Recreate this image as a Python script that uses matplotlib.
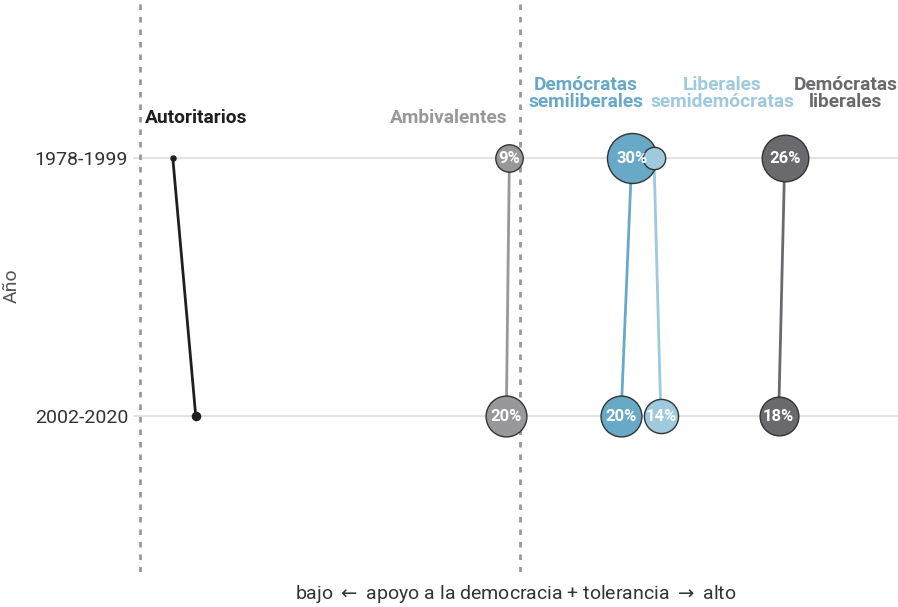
import matplotlib
matplotlib.use("Agg")
import matplotlib.pyplot as plt

plt.rcParams['font.family'] = ['Roboto', 'DejaVu Sans']

periods = ["1978-1999", "2002-2020"]
groups = ["Autoritarios", "Ambivalentes", "Demócratas\nsemiliberales",
          "Liberales\nsemidemócratas", "Demócratas\nliberales"]
# position on the support-for-democracy + tolerance index (0-100)
pos_1978 = [5.2, 49.2, 65.2, 68.1, 85.2]
pos_2002 = [8.2, 48.8, 63.8, 69.0, 84.4]
# share of respondents (%)
share_1978 = [0.3, 9, 30, 6, 26]
share_2002 = [0.8, 20, 20, 14, 18]
show_label_1978 = [False, True, True, False, True]
show_label_2002 = [False, True, True, True, True]
colors = ["#1f1f1f", "#98989b", "#67a9c6", "#9fc9dc", "#6a6a6e"]
dashed_x = [0.9, 50.6]

fig = plt.figure(figsize=(8.98, 6.07), dpi=100)
ax = fig.add_axes([133/898, 35/607, 765/898, 572/607])
ax.set_xlim(0, 100)
ax.set_ylim(1.605, -0.612)

for y in [0, 1]:
    ax.axhline(y, color="#dddddd", lw=1.2, zorder=0)
for x in dashed_x:
    ax.axvline(x, color="#999999", lw=2, ls=(0, (2, 2.5)), zorder=1)

k = 43.2
for i, g in enumerate(groups):
    c = colors[i]
    ax.plot([pos_1978[i], pos_2002[i]], [0, 1], color=c, lw=2, zorder=2)

# draw big circles first, then small ones on top
order = sorted(range(len(groups)), key=lambda i: -share_1978[i])
for i in order:
    c = colors[i]
    ec = "#333333" if i > 0 else c
    ax.scatter(pos_1978[i], 0, s=share_1978[i]*k, color=c, edgecolor=ec, lw=1, zorder=3)
    ax.scatter(pos_2002[i], 1, s=share_2002[i]*k, color=c, edgecolor=ec, lw=1, zorder=3)
for i in order:
    if show_label_1978[i]:
        ax.text(pos_1978[i], 0.004, f"{share_1978[i]}%", color="white", fontsize=12,
                fontweight="bold", ha="center", va="center", zorder=5)
    if show_label_2002[i]:
        ax.text(pos_2002[i], 1.004, f"{share_2002[i]}%", color="white", fontsize=12,
                fontweight="bold", ha="center", va="center", zorder=5)

# headers
hdr = dict(fontsize=13.8, fontweight="bold", linespacing=0.9)
ax.text(1.6, -0.153, groups[0], color=colors[0], ha="left", va="center", **hdr)
ax.text(49.0, -0.153, groups[1], color=colors[1], ha="right", va="center", **hdr)
ax.text(59.2, -0.25, groups[2], color=colors[2], ha="center", va="center", **hdr)
ax.text(77.0, -0.25, groups[3], color=colors[3], ha="center", va="center", **hdr)
ax.text(93.2, -0.25, groups[4], color=colors[4], ha="center", va="center", **hdr)

ax.set_yticks([0, 1])
ax.set_yticklabels(periods, fontsize=14, color="#333333")
ax.set_xticks([])
ax.tick_params(axis="y", length=0, pad=3.5)
for s in ax.spines.values():
    s.set_visible(False)
ax.set_ylabel("Año", fontsize=14, color="#555555", labelpad=10)
ax.set_xlabel("bajo $\\leftarrow$ apoyo a la democracia + tolerancia $\\rightarrow$ alto",
              fontsize=14, color="#333333", labelpad=8)

fig.savefig("out.png", dpi=100)
